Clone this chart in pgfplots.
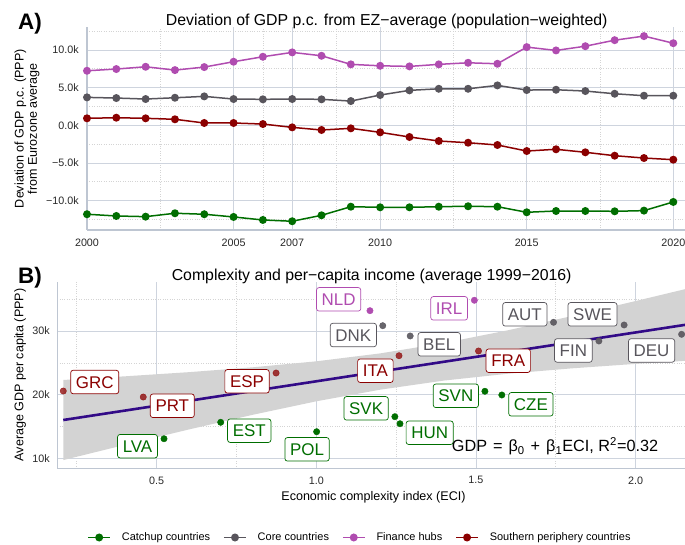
\documentclass[border=0pt]{standalone}
\usepackage{fontspec}
\setmainfont{Liberation Sans}
\usepackage{pgfplots}
\pgfplotsset{compat=1.18}

\definecolor{cgreen}{RGB}{0,110,0}
\definecolor{cgrey}{RGB}{88,85,92}
\definecolor{cpurple}{RGB}{176,76,176}
\definecolor{cred}{RGB}{139,0,0}
\definecolor{gridc}{RGB}{206,212,222}
\definecolor{axisc}{RGB}{190,198,210}
\definecolor{minorc}{RGB}{212,212,212}
\definecolor{bandc}{RGB}{211,211,211}
\definecolor{regc}{RGB}{50,10,135}
\definecolor{tickc}{RGB}{40,40,40}

\pgfplotsset{
  ggp/.style={
    scale only axis,
    axis x line*=bottom, axis y line*=left,
    every outer x axis line/.append style={-},
    every outer y axis line/.append style={-},
    axis line style={-, draw=axisc, line width=1.4bp},
    grid=both,
    major grid style={draw=gridc, line width=0.9bp},
    minor grid style={draw=minorc, dotted, line width=0.7bp},
    major tick length=0pt, minor tick length=0pt,
    tick label style={font=\fontsize{10.8}{12}\selectfont, text=tickc, inner sep=0pt},
  },
}
\tikzset{
  lab/.style={draw=#1, text=#1, fill=white, rounded corners=2.5bp, line width=0.7bp,
    font=\fontsize{17}{17}\selectfont, inner xsep=5.2bp, inner ysep=0pt,
    minimum height=23.5bp, text height=12.2bp, text depth=0pt, anchor=center},
}

\begin{document}
\begin{tikzpicture}[x=1bp,y=1bp]
\useasboundingbox (0,0) rectangle (685,545);

% ---------------- Panel A ----------------
\begin{axis}[ggp,
  at={(87bp,315bp)}, anchor=south west,
  width=598bp, height=202.7bp,
  xmin=2000, xmax=2020.4, ymin=-13.89, ymax=13.01,
  clip=false,
  xtick={2000,2005,2007,2010,2015,2020},
  xticklabels={2000,2005,2007,2010,2015,2020},
  minor xtick={2002.5,2006,2008.5,2012.5,2017.5},
  ytick={-10,-5,0,5,10},
  yticklabels={−10.0k,−5.0k,0.0k,5.0k,10.0k},
  minor ytick={-12.5,-7.5,-2.5,2.5,7.5,12.5},
  xticklabel style={anchor=center, yshift=-13.3bp},
  yticklabel style={anchor=east, xshift=-8bp},
  ylabel={Deviation of GDP p.c. (PPP)\\from Eurozone average},
  every axis y label/.style={at={(axis description cs:-0.1003,0.5)}, rotate=90, anchor=center,
    align=center, font=\fontsize{12.6}{13.4}\selectfont},
  legend style={at={(axis description cs:0.4548,-1.517)}, anchor=center, draw=none, fill=none,
    legend columns=4, font=\fontsize{11}{13}\selectfont, inner sep=0pt,
    nodes={inner sep=0pt},
    /tikz/every odd column/.append style={column sep=11bp},
    /tikz/every even column/.append style={column sep=13bp}},
  legend image code/.code={\draw[mark repeat=2,mark phase=2,#1] plot coordinates {(0bp,0bp) (11bp,0bp) (22bp,0bp)};},
  every axis plot/.append style={line width=1.5bp, mark=*, mark size=3.2bp, mark options={solid}},
]
\addplot[color=cgreen] coordinates {
(2000,-11.80) (2001,-12.03) (2002,-12.12) (2003,-11.67) (2004,-11.80) (2005,-12.16) (2006,-12.56)
(2007,-12.73) (2008,-11.94) (2009,-10.80) (2010,-10.88) (2011,-10.88) (2012,-10.80) (2013,-10.74)
(2014,-10.80) (2015,-11.54) (2016,-11.37) (2017,-11.37) (2018,-11.41) (2019,-11.32) (2020,-10.17)};
\addlegendentry{Catchup countries}
\addplot[color=cgrey] coordinates {
(2000,3.71) (2001,3.62) (2002,3.49) (2003,3.66) (2004,3.84) (2005,3.49) (2006,3.45)
(2007,3.49) (2008,3.45) (2009,3.22) (2010,4.02) (2011,4.64) (2012,4.85) (2013,4.85)
(2014,5.30) (2015,4.68) (2016,4.72) (2017,4.55) (2018,4.19) (2019,3.93) (2020,3.93)};
\addlegendentry{Core countries}
\addplot[color=cpurple] coordinates {
(2000,7.24) (2001,7.47) (2002,7.77) (2003,7.33) (2004,7.73) (2005,8.44) (2006,9.10)
(2007,9.68) (2008,9.23) (2009,8.09) (2010,7.90) (2011,7.82) (2012,8.09) (2013,8.30)
(2014,8.17) (2015,10.38) (2016,9.94) (2017,10.50) (2018,11.30) (2019,11.84) (2020,10.90)};
\addlegendentry{Finance hubs}
\addplot[color=cred] coordinates {
(2000,0.93) (2001,1.01) (2002,0.93) (2003,0.80) (2004,0.31) (2005,0.31) (2006,0.17)
(2007,-0.27) (2008,-0.62) (2009,-0.40) (2010,-0.93) (2011,-1.55) (2012,-2.08) (2013,-2.31)
(2014,-2.61) (2015,-3.41) (2016,-3.18) (2017,-3.58) (2018,-4.03) (2019,-4.34) (2020,-4.56)};
\addlegendentry{Southern periphery countries}
\end{axis}

% ---------------- Panel B ----------------
\begin{axis}[ggp,
  at={(57.3bp,76.7bp)}, anchor=south west,
  width=627.7bp, height=186.6bp,
  xmin=0.1888, xmax=2.1547, ymin=8.5, ymax=37.72,
  xtick={0.5,1,1.5,2}, xticklabels={0.5,1.0,1.5,2.0},
  minor xtick={0.25,0.75,1.25,1.75},
  ytick={10,20,30}, yticklabels={10k,20k,30k},
  minor ytick={15,25,35},
  xticklabel style={anchor=center, yshift=-12bp},
  yticklabel style={anchor=east, xshift=-7.3bp},
  xlabel={Economic complexity index (ECI)},
  every axis x label/.style={at={(axis description cs:0.5037,-0.156)}, anchor=center,
    font=\fontsize{12.6}{13.4}\selectfont},
  ylabel={Average GDP per capita (PPP)},
  every axis y label/.style={at={(axis description cs:-0.0594,0.5)}, rotate=90, anchor=center,
    font=\fontsize{12.6}{13.4}\selectfont},
]
% confidence band
\addplot[fill=bandc, draw=none] coordinates {
(0.2075,22.33) (0.4,22.90) (0.6,23.55) (0.8,24.31) (1.0,25.25) (1.2,26.49) (1.4,28.12)
(1.6,30.11) (1.8,32.33) (2.0,34.69) (2.155,36.55)
(2.155,25.33) (2.0,24.85) (1.8,24.15) (1.6,23.31) (1.4,22.24) (1.2,20.81) (1.0,18.99)
(0.8,16.87) (0.6,14.57) (0.4,12.16) (0.2075,9.79)};
% regression line
\addplot[color=regc, line width=2.6bp] coordinates {(0.2075,16.06) (2.155,30.96)};
% points
\addplot[only marks, mark=*, mark size=3.2bp, color=cgreen] coordinates {
(0.7005,15.70) (0.523,13.13) (1.001,14.23) (1.528,20.56) (1.581,19.98) (1.246,16.58) (1.262,15.48)};
\addplot[only marks, mark=*, mark size=3.2bp, color=cgrey, opacity=0.9] coordinates {
(1.208,30.83) (1.743,31.36) (1.964,30.94) (2.144,29.48) (1.885,28.43) (1.294,29.22)};
\addplot[only marks, mark=*, mark size=3.2bp, color=cpurple] coordinates {
(1.168,33.18) (1.495,34.81)};
\addplot[only marks, mark=*, mark size=3.2bp, color=cred, opacity=0.75] coordinates {
(0.2075,20.60) (0.458,19.66) (0.874,23.42) (1.259,26.13) (1.508,26.87)};
% labels
\node[lab=cred] at (axis cs:0.306,22.01) {GRC};
\node[lab=cred] at (axis cs:0.549,18.29) {PRT};
\node[lab=cred] at (axis cs:0.783,22.12) {ESP};
\node[lab=cred] at (axis cs:1.185,23.78) {ITA};
\node[lab=cred] at (axis cs:1.601,25.35) {FRA};
\node[lab=cgreen] at (axis cs:0.790,14.39) {EST};
\node[lab=cgreen] at (axis cs:0.440,11.96) {LVA};
\node[lab=cgreen] at (axis cs:0.971,11.47) {POL};
\node[lab=cgreen] at (axis cs:1.437,19.85) {SVN};
\node[lab=cgreen] at (axis cs:1.672,18.52) {CZE};
\node[lab=cgreen] at (axis cs:1.156,17.89) {SVK};
\node[lab=cgreen] at (axis cs:1.355,14.07) {HUN};
\node[lab=cpurple] at (axis cs:1.070,34.96) {NLD};
\node[lab=cpurple] at (axis cs:1.416,33.55) {IRL};
\node[lab=cgrey] at (axis cs:1.116,29.37) {DNK};
\node[lab=cgrey] at (axis cs:1.653,32.61) {AUT};
\node[lab=cgrey] at (axis cs:1.865,32.61) {SWE};
\node[lab=cgrey] at (axis cs:1.385,27.92) {BEL};
\node[lab=cgrey] at (axis cs:1.805,26.95) {FIN};
\node[lab=cgrey] at (axis cs:2.050,26.95) {DEU};
\end{axis}

% titles and annotations
\node[anchor=base, font=\fontsize{15.9}{18}\selectfont] at (386.7,519) {Deviation of GDP p.c. from EZ−average (population−weighted)};
\node[anchor=base, font=\fontsize{15.9}{18}\selectfont] at (371.7,264.3) {Complexity and per−capita income (average 1999−2016)};
\node[anchor=base west, font=\fontsize{22.5}{24}\selectfont\bfseries, inner sep=0pt] at (18,515.7) {A)};
\node[anchor=base west, font=\fontsize{22.5}{24}\selectfont\bfseries, inner sep=0pt] at (18,261) {B)};
\node[anchor=base west, inner sep=0pt, font=\fontsize{16.3}{18}\selectfont] at (451.7,93.3) {GDP\hspace{6bp}=\hspace{6bp}β\textsubscript{0}\hspace{6bp}+\hspace{6bp}β\textsubscript{1}ECI, R\textsuperscript{2}=0.32};
\end{tikzpicture}
\end{document}
